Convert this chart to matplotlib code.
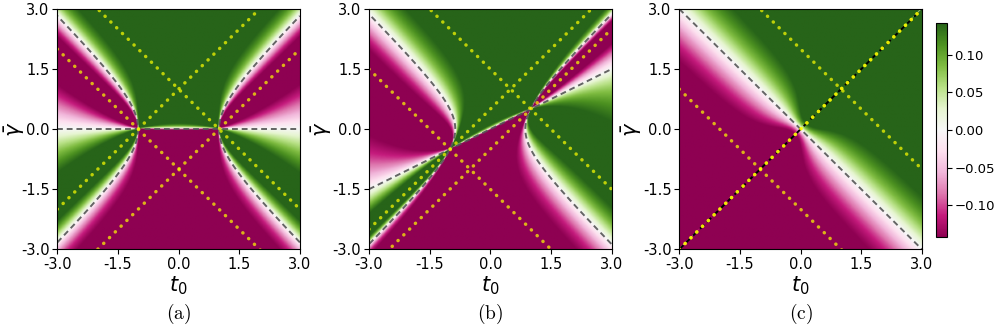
import numpy as np
import matplotlib
matplotlib.use('Agg')
import matplotlib.pyplot as plt

# ---- values ----
panel_labels = ['(a)', '(b)', '(c)']
delta_vals = [0.0, 0.5, 1.0]          # slope of the dashed line through the two crossing points
t0_ticks = [-3.0, -1.5, 0.0, 1.5, 3.0]
gamma_ticks = [-3.0, -1.5, 0.0, 1.5, 3.0]
tick_labels = ['-3.0', '-1.5', '0.0', '1.5', '3.0']
cbar_ticks = [-0.10, -0.05, 0.0, 0.05, 0.10]
cbar_labels = ['\u22120.10', '\u22120.05', '0.00', '0.05', '0.10']
vlim = 0.142

# shape parameters of the colour field (estimated from band widths in the picture)
gain = 1.3
wI_out, wI_up, wI_dn = 0.16, 0.12, 0.02
gR0, gR1 = 0.25, 1.1

nx, ny = 301, 300
t0 = np.linspace(-3, 3, nx)
gm = np.linspace(-3, 3, ny)
T, G = np.meshgrid(t0, gm)


def field(d):
    I = G - d * T
    R = T**2 - G**2 - (1 - d**2)
    cI = np.where(R > 0, wI_out, np.where(I > 0, wI_up, wI_dn))
    wI = cI * np.abs(R) + 1e-3
    wR = np.abs(I) * (gR0 + gR1 * I**2 / (I**2 + 1.0)) + 1e-3
    return -vlim * gain * np.tanh(I / wI) * np.tanh(R / wR)


W, H = 997, 333
fig = plt.figure(figsize=(W / 100, H / 100), dpi=100)
plt.rcParams['mathtext.fontset'] = 'dejavusans'

lefts = [57.3, 369.0, 679.3]
ylab_x = [15.0, 322.0, 632.0]
axw = 242.6
top, bot = 9.0, 249.3
axh = bot - top

yellow = '#ffff00'
for k, d in enumerate(delta_vals):
    ax = fig.add_axes([lefts[k] / W, (H - bot) / H, axw / W, axh / H])
    im = ax.imshow(field(d), extent=[-3, 3, -3, 3], origin='lower', cmap='PiYG',
                   vmin=-vlim, vmax=vlim, aspect='auto', interpolation='bilinear')
    xs = np.linspace(-3, 3, 400)
    c = 1 - d**2
    dash = dict(color='#555555', lw=1.4, ls=(0, (3, 2)), alpha=0.9)
    if c > 0:
        gs = np.linspace(-3, 3, 800)
        tt = np.sqrt(c + gs**2)
        m = tt <= 3.0
        ax.plot(tt[m], gs[m], **dash)
        ax.plot(-tt[m], gs[m], **dash)
        ax.plot(xs, d * xs, **dash)
    else:
        ax.plot(xs, -xs, **dash)
        ax.plot(xs, xs, color='black', lw=1.4, ls=(0, (3, 2)))
    dot = dict(color=yellow, lw=2.5, ls=(0, (0.05, 2.3)), alpha=0.7,
               dash_capstyle='round', solid_capstyle='round')
    ax.plot(xs, xs + (1 - d), **dot)
    ax.plot(xs, -xs + (1 + d), **dot)
    ax.plot(xs, -xs - (1 + d), **dot)
    ax.plot(xs, xs - (1 - d), **dot)
    ax.set_xlim(-3, 3)
    ax.set_ylim(-3, 3)
    ax.set_xticks(t0_ticks)
    ax.set_yticks(gamma_ticks)
    ax.set_xticklabels(tick_labels, fontsize=10.5)
    ax.set_yticklabels(tick_labels, fontsize=10.5)
    ax.tick_params(pad=2)
    ax.set_xlabel(r'$t_0$', fontsize=15)
    ax.xaxis.label.set_va('top')
    ax.xaxis.set_label_coords(0.5, (bot - 274) / axh)
    ax.set_ylabel(r'$\bar{\gamma}$', fontsize=15)
    ax.yaxis.label.set_va('center')
    ax.yaxis.set_label_coords((ylab_x[k] - lefts[k]) / axw, 0.5)
    fig.text((lefts[k] + axw / 2) / W, 1 - 314 / H, r'$\mathrm{' + panel_labels[k] + '}$',
             ha='center', va='center', fontsize=14, math_fontfamily='cm')

cax = fig.add_axes([936 / W, (H - 237) / H, 10.7 / W, 214 / H])
cb = fig.colorbar(im, cax=cax, ticks=cbar_ticks)
cb.ax.tick_params(labelsize=9.5, pad=2)
cb.ax.set_yticklabels(cbar_labels)

fig.savefig('out.png', dpi=100)
